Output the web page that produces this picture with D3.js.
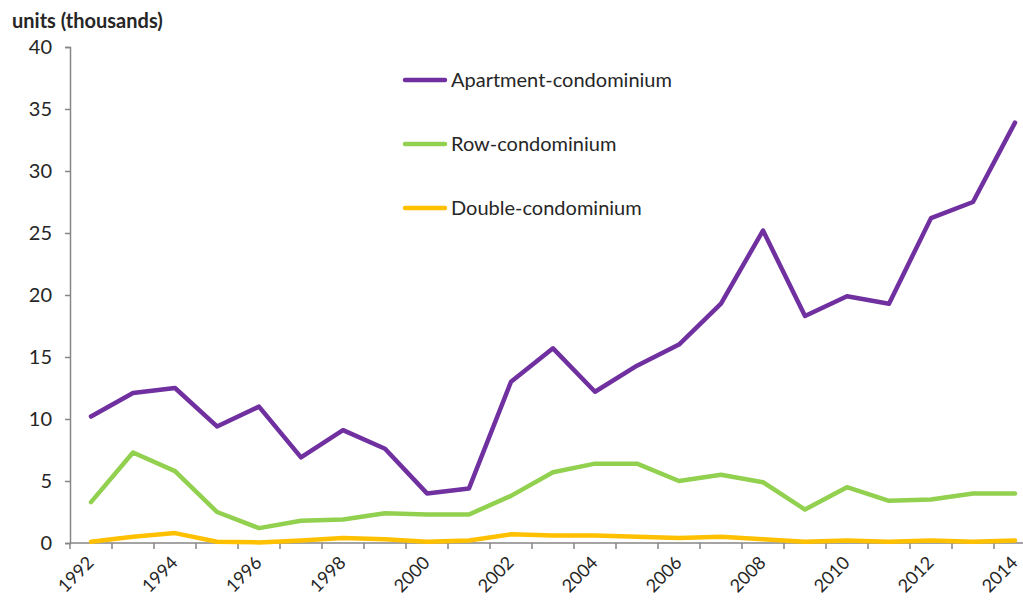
<!DOCTYPE html>
<html>
<head>
<meta charset="utf-8">
<script src="https://cdn.jsdelivr.net/npm/d3@7"></script>
<style>
  body { margin: 0; background: #fff; }
  text { font-family: Lato, "Open Sans", sans-serif; fill: #262626; }
</style>
</head>
<body>
<script>
// years along the bottom, one band per year
var years = d3.range(1992, 2015);
var yTicks = [0, 5, 10, 15, 20, 25, 30, 35, 40];

var apartment = [10.2, 12.1, 12.5, 9.4, 11.0, 6.9, 9.1, 7.6, 4.0, 4.4, 13.0, 15.7,
                 12.2, 14.3, 16.0, 19.3, 25.2, 18.3, 19.9, 19.3, 26.2, 27.5, 33.9];
var row = [3.3, 7.3, 5.8, 2.5, 1.2, 1.8, 1.9, 2.4, 2.3, 2.3, 3.8, 5.7,
           6.4, 6.4, 5.0, 5.5, 4.9, 2.7, 4.5, 3.4, 3.5, 4.0, 4.0];
var double = [0.1, 0.5, 0.8, 0.1, 0.05, 0.2, 0.4, 0.3, 0.1, 0.2, 0.7, 0.6,
              0.6, 0.5, 0.4, 0.5, 0.3, 0.1, 0.2, 0.1, 0.2, 0.1, 0.2];

var seriesNames = ['Apartment-condominium', 'Row-condominium', 'Double-condominium'];
var seriesColors = ['#7030a0', '#92d050', '#ffc000'];
var seriesData = [apartment, row, double];

var width = 1023, height = 601;
var margin = {top: 47, left: 70, bottom: 58};

var svg = d3.select("body").append("svg")
            .attr("width", width)
            .attr("height", height);

var xScale = d3.scaleBand().domain(years).range([margin.left, margin.left + 23 * 42]);
var yScale = d3.scaleLinear().domain([0, 40]).range([543, margin.top]);

// y axis
var yAxis = svg.append("g")
  .attr("transform", "translate(" + margin.left + ",0)")
  .call(d3.axisLeft(yScale).tickValues(yTicks).tickSize(5).tickPadding(13));
yAxis.select(".domain").attr("stroke", "#868686").attr("stroke-width", 1.5);
yAxis.selectAll(".tick line").attr("stroke", "#868686").attr("stroke-width", 1.5);
yAxis.selectAll(".tick text").attr("font-size", 20).attr("font-family", "Lato").attr("fill", "#262626");

// x axis, ticks on band edges
var edges = d3.range(0, 24).map(function(i){ return margin.left + i * xScale.step(); });
svg.append("line")
  .attr("x1", margin.left).attr("x2", margin.left + 23 * 42)
  .attr("y1", yScale(0)).attr("y2", yScale(0))
  .attr("stroke", "#868686").attr("stroke-width", 1.5);
svg.selectAll(".xtick").data(edges).enter().append("line")
  .attr("x1", function(d){ return d; }).attr("x2", function(d){ return d; })
  .attr("y1", yScale(0)).attr("y2", yScale(0) + 6)
  .attr("stroke", "#868686").attr("stroke-width", 1.5);

svg.selectAll(".xlabel").data(years.filter(function(d){ return d % 2 === 0; }))
  .enter().append("text")
  .text(function(d){ return d; })
  .attr("transform", function(d){
    return "translate(" + (xScale(d) + xScale.bandwidth() / 2 - 5) + "," + (yScale(0) + 12) + ") rotate(-45)";
  })
  .attr("dy", "0.7em")
  .style("text-anchor", "end")
  .attr("font-size", 18);

// lines
var line = d3.line()
  .x(function(d, i){ return xScale(years[i]) + xScale.bandwidth() / 2; })
  .y(function(d){ return yScale(d); });

seriesData.forEach(function(s, k){
  svg.append("path")
    .datum(s)
    .attr("d", line)
    .attr("fill", "none")
    .attr("stroke", seriesColors[k])
    .attr("stroke-width", 4.5)
    .attr("stroke-linejoin", "round")
    .attr("stroke-linecap", "round");
});

// legend
var legend = svg.selectAll(".legend").data(seriesNames).enter().append("g")
  .attr("transform", function(d, i){ return "translate(403," + (80 + i * 64) + ")"; });
legend.append("line")
  .attr("x1", 2).attr("x2", 42).attr("y1", 0).attr("y2", 0)
  .attr("stroke", function(d, i){ return seriesColors[i]; })
  .attr("stroke-width", 4.5)
  .attr("stroke-linecap", "round");
legend.append("text")
  .text(function(d){ return d; })
  .attr("x", 48).attr("y", 0).attr("dy", "0.35em")
  .attr("font-size", 20);

// axis title
svg.append("text")
  .text("units (thousands)")
  .attr("x", 12).attr("y", 28)
  .attr("font-size", 20)
  .attr("font-weight", "bold");
</script>
</body>
</html>
